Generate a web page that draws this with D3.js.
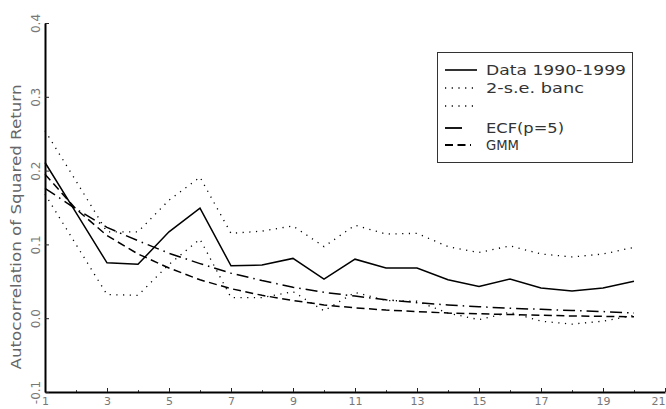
<!DOCTYPE html>
<html>
<head>
<meta charset="utf-8">
<script src="https://cdn.jsdelivr.net/npm/d3@7"></script>
<style>
  html, body { margin: 0; padding: 0; background: #fff; }
  svg { display: block; }
  text { font-family: "DejaVu Sans", sans-serif; }
</style>
</head>
<body>
<svg id="chart" width="666" height="409"></svg>
<script>
// ---- data ----
const lags = [1,2,3,4,5,6,7,8,9,10,11,12,13,14,15,16,17,18,19,20];
const dataAcf  = [0.211,0.143,0.075,0.073,0.117,0.149,0.071,0.072,0.081,0.053,0.080,0.068,0.068,0.052,0.043,0.053,0.041,0.037,0.041,0.050];
const upperBand = [0.254,0.186,0.117,0.117,0.160,0.191,0.115,0.118,0.125,0.097,0.126,0.114,0.115,0.097,0.089,0.098,0.087,0.083,0.087,0.096];
const lowerBand = [0.168,0.100,0.032,0.031,0.073,0.107,0.028,0.028,0.036,0.010,0.035,0.024,0.023,0.007,-0.002,0.008,-0.004,-0.008,-0.004,0.004];
const ecfAcf = [0.176,0.148,0.123,0.105,0.088,0.074,0.061,0.051,0.042,0.035,0.030,0.025,0.021,0.018,0.0155,0.0135,0.012,0.0105,0.009,0.007];
const gmmAcf = [0.195,0.148,0.112,0.087,0.068,0.052,0.040,0.031,0.024,0.018,0.014,0.011,0.009,0.007,0.006,0.005,0.004,0.003,0.0025,0.002];
const xTicks = [1,3,5,7,9,11,13,15,17,19,21];
const xMinorTicks = d3.range(1, 22);
const yTicks = [-0.1,0.0,0.1,0.2,0.3,0.4];
const yTickLabels = ["-0.1","0.0","0.1","0.2","0.3","0.4"];
const yTitle = "Autocorrelation of Squared Return";
const legendLabels = ["Data 1990-1999","2-s.e. banc","","ECF(p=5)","GMM"];

// ---- chart ----
const svg = d3.select("#chart");
const x = d3.scaleLinear().domain([1,21]).range([45,665]);
const y = d3.scaleLinear().domain([-0.1,0.4]).range([392,23]);

// minor ticks on x
svg.append("g").attr("transform","translate(0,392)")
  .call(d3.axisBottom(x).tickValues(xMinorTicks).tickSize(-2).tickFormat(""))
  .call(g => g.select(".domain").remove())
  .call(g => g.selectAll("line").attr("stroke","#444"));

// x axis
const gx = svg.append("g").attr("transform","translate(0,392)")
  .call(d3.axisBottom(x).tickValues(xTicks).tickSize(-4).tickPadding(5).tickSizeOuter(0));
gx.select(".domain").attr("stroke","#000").attr("stroke-width",2);
gx.selectAll(".tick line").attr("stroke","#222");
gx.selectAll(".tick text").attr("font-size",11).attr("fill","#777")
  .style("font-family","DejaVu Sans, sans-serif")
  .attr("text-anchor", d => d === 21 ? "end" : "middle");

// y axis
const gy = svg.append("g").attr("transform","translate(45,0)")
  .call(d3.axisLeft(y).tickValues(yTicks).tickSize(-4).tickSizeOuter(0)
    .tickFormat((d,i) => yTickLabels[i]));
gy.select(".domain").attr("stroke","#000").attr("stroke-width",2);
gy.selectAll(".tick line").attr("stroke","#222");
gy.selectAll(".tick text")
  .attr("x",0).attr("dy",0)
  .attr("transform","translate(-5,0) rotate(-90)")
  .attr("text-anchor","middle")
  .attr("font-size",12).attr("fill","#777")
  .style("font-family","DejaVu Sans, sans-serif");

// y title
svg.append("text")
  .attr("transform","translate(21,227) rotate(-90)")
  .attr("text-anchor","middle")
  .attr("font-size",14).attr("fill","#666")
  .attr("textLength",285).attr("lengthAdjust","spacingAndGlyphs")
  .text(yTitle);

const line = d3.line().x((d,i) => x(lags[i])).y(d => y(d));

const series = [
  {vals: upperBand, dash: "1.2,5.5", w: 1.3},
  {vals: lowerBand, dash: "1.2,5.5", w: 1.3},
  {vals: gmmAcf, dash: "8,4.5", w: 1.5},
  {vals: ecfAcf, dash: "12,5,1.5,5", w: 1.5},
  {vals: dataAcf, dash: null, w: 1.5}
];
series.forEach(s => {
  svg.append("path").datum(s.vals)
    .attr("d", line)
    .attr("fill","none").attr("stroke","#000")
    .attr("stroke-width", s.w)
    .attr("stroke-dasharray", s.dash);
});

// legend
const lg = svg.append("g");
lg.append("rect").attr("x",437.5).attr("y",52.5).attr("width",195).attr("height",110)
  .attr("fill","#fff").attr("stroke","#333").attr("stroke-width",1);
const rows = [
  {cy:70, x2:477, dash:null, w:1.6, tl:140},
  {cy:88, x2:477, dash:"1.2,5.5", w:1.3, tl:98},
  {cy:106, x2:477, dash:"1.2,5.5", w:1.3, tl:0},
  {cy:128, x2:462, dash:null, w:1.8, tl:78},
  {cy:145, x2:471, dash:"8,4.5", w:1.8, tl:33}
];
rows.forEach((r,i) => {
  lg.append("line").attr("x1",445).attr("x2",r.x2).attr("y1",r.cy).attr("y2",r.cy)
    .attr("stroke","#000").attr("stroke-width",r.w).attr("stroke-dasharray",r.dash);
  if (legendLabels[i]) {
    lg.append("text").attr("x",486).attr("y",r.cy+5)
      .attr("font-size",14).attr("fill","#333")
      .attr("textLength",r.tl).attr("lengthAdjust","spacingAndGlyphs")
      .text(legendLabels[i]);
  }
});
</script>
</body>
</html>
